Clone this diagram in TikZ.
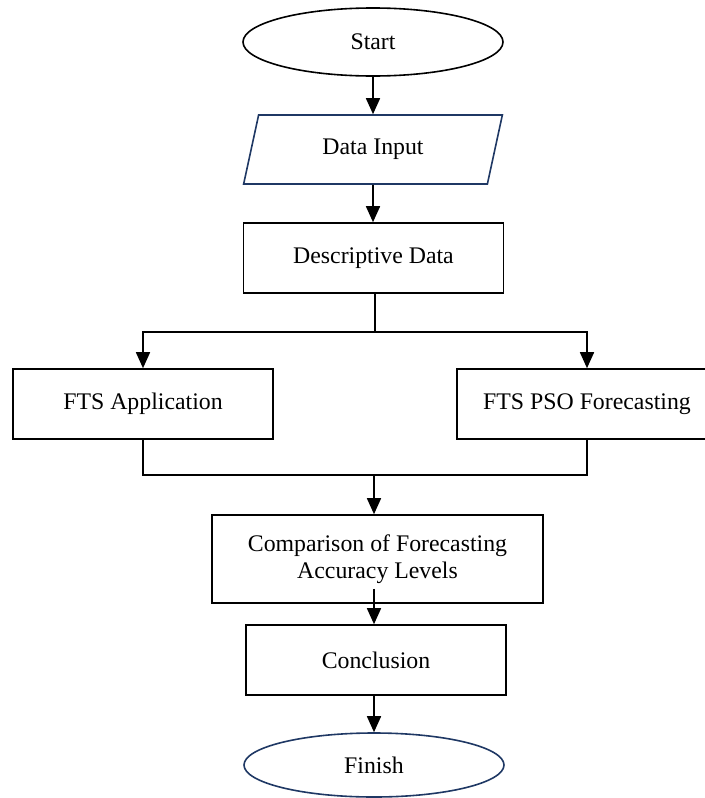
\documentclass[tikz,border=0pt]{standalone}
\usepackage{fontspec}
\setmainfont{Liberation Serif}
\usepackage{tikz}
\usetikzlibrary{arrows.meta, shapes.geometric}
\definecolor{darkblue}{RGB}{31,56,100}

\begin{document}
\begin{tikzpicture}[x=0.5pt, y=-0.5pt, >={Triangle[width=7pt, length=8pt]}, line width=0.8pt]
            \tikzset{
                box/.style={rectangle, draw, inner sep=2pt, minimum width=130pt, minimum height=35pt,
                    font=\fontsize{11.9}{13.8}\selectfont, align=center},
                terminal/.style={ellipse, draw, inner sep=1pt, minimum width=130pt, minimum height=34pt,
                    font=\fontsize{11.9}{13.8}\selectfont},
                io/.style={trapezium, trapezium left angle=76, trapezium right angle=104, trapezium stretches=true,
                    draw=darkblue, inner sep=2pt, minimum width=129.5pt, minimum height=34.5pt,
                    font=\fontsize{11.9}{13.8}\selectfont}
            };
            \useasboundingbox (0, 0) rectangle (705, 798);
            \node[terminal] (start) at (373, 42) {Start};
            \node[io] (datain) at (373, 149.5) {Data Input};
            \node[box] (desc) at (373.5, 258) {Descriptive Data};
            \node[box] (ftsapp) at (143, 404) {FTS Application};
            \node[box] (ftspso) at (587, 404) {FTS PSO Forecasting};
            \node[box, minimum width=165.5pt, minimum height=44pt] (compare) at (377.5, 559) {Comparison of Forecasting\\Accuracy Levels};
            \node[box] (concl) at (376, 660) {Conclusion};
            \node[terminal, draw=darkblue, minimum height=32pt] (finish) at (374, 765) {Finish};
            \coordinate (split) at (375, 332);
            \coordinate (merge) at (374, 475);
            \draw[->] (start) -- (datain);
            \draw[->] (datain) -- (datain |- desc.north);
            \draw (split |- desc.south) -- (split);
            \draw[->] (split) -| (ftsapp.north);
            \draw[->] (split) -| (ftspso.north);
            \draw (ftsapp.south) |- (merge) -| (ftspso.south);
            \draw[->] (merge) -- (merge |- compare.north);
            \draw[->, shorten <=-7.5pt] (merge |- compare.south) -- (merge |- concl.north);
            \draw[->] (merge |- concl.south) -- (finish.north);
        \end{tikzpicture}
\end{document}
